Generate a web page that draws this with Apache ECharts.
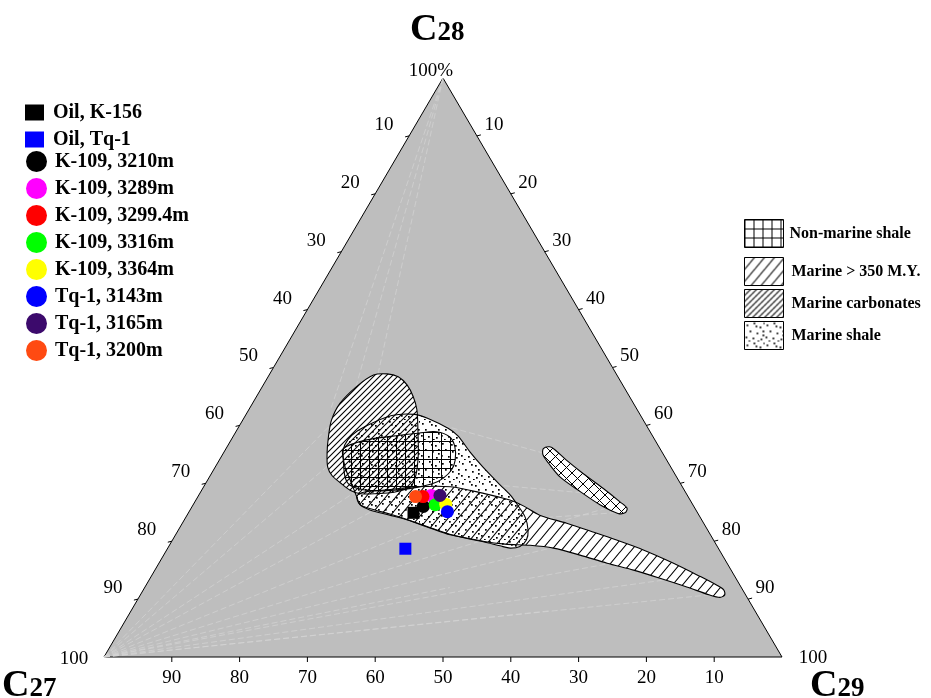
<!DOCTYPE html>
<html><head><meta charset="utf-8">
<script src="https://cdn.jsdelivr.net/npm/echarts@6/dist/echarts.min.js"></script>
<style>html,body{margin:0;padding:0;background:#fff}#c{width:931px;height:698px}</style>
</head><body><div id="c"></div>
<script>
// ---- samples: sterane composition (%) ----
const sampleNames = ['Oil, K-156','Oil, Tq-1','K-109, 3210m','K-109, 3289m','K-109, 3299.4m','K-109, 3316m','K-109, 3364m','Tq-1, 3143m','Tq-1, 3165m','Tq-1, 3200m'];
const sampleC27 = [41.9, 46.2, 39.9, 37.8, 39.1, 38.0, 36.4, 36.8, 36.5, 40.2];
const sampleC28 = [24.9, 18.7, 26.0, 27.9, 27.7, 26.3, 26.4, 25.1, 27.9, 27.7];
const sampleC29 = [33.2, 35.1, 34.1, 34.3, 33.2, 35.7, 37.2, 38.1, 35.6, 32.1];
const tickValues = [10, 20, 30, 40, 50, 60, 70, 80, 90];

// ---- environment fields, outline vertices as [C29 %, C28 %] (C27 = remainder) ----
const nonMarineA = [[17.3,36.0],[20.0,37.5],[24.5,38.3],[27.2,38.7],[29.6,38.9],[32.0,38.0],[33.6,36.3],[34.8,34.0],[35.1,32.3],[34.6,30.9],[33.6,30.0],[31.5,29.3],[29.2,28.9],[26.9,28.7],[23.8,28.9],[21.4,29.7],[20.0,31.1],[18.3,34.0]];
const nonMarineB = [[46.8,36.0],[47.6,36.3],[48.6,35.8],[51.2,34.0],[54.8,31.7],[59.1,29.1],[62.7,26.8],[64.3,25.7],[64.4,24.9],[63.4,24.8],[60.0,26.3],[55.9,28.6],[51.7,31.1],[48.8,33.5],[47.3,34.9]];
const marineOld = [[23.4,27.8],[24.2,28.5],[26.7,28.8],[31.5,29.4],[36.4,29.4],[41.7,28.3],[46.3,27.1],[48.8,26.1],[52.0,24.5],[56.7,23.1],[61.3,21.6],[65.5,20.2],[70.3,18.5],[75.9,16.2],[81.0,13.9],[84.2,12.4],[85.6,11.6],[86.2,10.7],[85.7,10.3],[84.0,10.7],[79.9,12.1],[75.2,13.6],[70.6,15.0],[66.1,16.2],[61.4,17.6],[56.9,18.8],[53.2,19.3],[49.4,19.5],[45.9,20.0],[40.4,21.2],[32.7,23.8],[29.8,24.7],[26.5,25.6],[24.5,26.4]];
const carbonates = [[15.4,48.7],[17.3,48.9],[19.2,48.4],[21.2,47.0],[23.1,45.0],[24.8,42.7],[26.7,39.2],[28.9,34.9],[30.3,31.4],[30.5,29.4],[28.7,28.5],[25.9,28.2],[23.7,28.2],[21.9,28.8],[19.8,30.1],[18.0,31.3],[16.6,32.8],[15.3,35.2],[14.1,38.0],[13.1,40.9],[12.9,43.8],[13.9,46.7]];
const marineShale = [[23.5,27.6],[24.6,26.3],[26.5,25.4],[29.9,24.5],[32.8,23.7],[36.9,22.3],[40.5,21.1],[46.0,19.9],[48.8,19.2],[50.5,18.8],[51.8,19.1],[52.2,20.2],[51.6,21.9],[50.0,24.2],[47.6,26.5],[45.9,28.0],[43.6,29.7],[39.5,32.8],[36.3,35.4],[33.1,38.2],[31.0,39.5],[27.2,41.2],[24.9,41.9],[21.6,41.7],[18.6,39.8],[17.4,38.3],[17.2,36.6],[17.8,34.9],[19.3,32.6],[21.0,30.6],[22.5,28.8]];

// faint construction lines in the background: [fromC29, fromC28, toC29, toC28]
const guideLines = [
  [0,0,24,30],[0,0,30,28],[0,0,40,25],[0,0,50,22],[0,0,60,20],[0,0,70,17],[0,0,80,14],[0,0,86,11],[0,0,20,40],[0,0,15,45],[0,0,45,12],[0,0,62,8],
  [0,100,14,46],[0,100,20,36],[0,100,12,43],
  [30,40,48,35],[52,24,64,25],[52,22,62,26],[40,30,60,28]
];

// ---- styles ----
const sampleColors = ['#000000','#0000ff','#000000','#ff00ff','#ff0000','#00ff00','#ffff00','#0000ff','#3c0a6c','#ff4a12'];
const SERIF = '"Liberation Serif", "Times New Roman", serif';

function proj(c29, c28) { return [c29 + c28 / 2, c28]; }

function makeTile(w, h, draw) {
  const c = document.createElement('canvas');
  c.width = w; c.height = h;
  const g = c.getContext('2d');
  g.strokeStyle = '#000'; g.fillStyle = '#000'; g.lineWidth = 1;
  draw(g, w, h);
  return { image: c, repeat: 'repeat' };
}
function diag(g, w, h) {
  g.beginPath();
  g.moveTo(-w, 2 * h); g.lineTo(2 * w, -h);
  g.moveTo(-w, h); g.lineTo(w, -h);
  g.moveTo(0, 2 * h); g.lineTo(2 * w, 0);
  g.stroke();
}
const patGrid = makeTile(9, 9, (g) => { g.beginPath(); g.moveTo(0.5, 0); g.lineTo(0.5, 9); g.moveTo(0, 0.5); g.lineTo(9, 0.5); g.stroke(); });
const patCross = makeTile(11, 11, (g, w, h) => { diag(g, w, h); g.beginPath(); g.moveTo(-w, -h); g.lineTo(2*w, 2*h); g.moveTo(0,-h); g.lineTo(2*w,h); g.moveTo(-w,0); g.lineTo(w,2*h); g.stroke(); });
const patOld = makeTile(10, 12, (g, w, h) => { g.lineWidth = 1.1; diag(g, w, h); });
const patCarb = makeTile(6, 6, (g, w, h) => { g.lineWidth = 1.1; diag(g, w, h); });
const dotSpots = [[2,3],[9,1],[15,5],[5,9],[12,11],[18,9],[1,15],[8,16],[16,17],[11,4],[4,19],[13,19],[19,1],[18,13]];
const patDots = makeTile(20, 20, (g) => { dotSpots.forEach(d => g.fillRect(d[0], d[1], 1.7, 1.7)); });

function regionSeries(name, polys, fills, z) {
  return {
    type: 'custom', name, coordinateSystem: 'cartesian2d', z, silent: true,
    itemStyle: { color: fills[0], borderColor: '#000', borderWidth: 1 },
    data: polys.map(p => proj(p[0][0], p[0][1])),
    renderItem(params, api) {
      const pts = polys[params.dataIndex].map(q => api.coord(proj(q[0], q[1])));
      return { type: 'polygon', shape: { points: pts, smooth: 0.3 },
               style: { fill: fills[params.dataIndex], stroke: '#000', lineWidth: 1.1 } };
    }
  };
}

const allPolys = [nonMarineA, nonMarineB, marineOld, carbonates, marineShale];

const series = [];
// triangle frame with ticks and labels
series.push({
  type: 'custom', name: 'frame', coordinateSystem: 'cartesian2d', z: 1, silent: true,
  data: [[50, 50]],
  renderItem(params, api) {
    const A = api.coord(proj(0, 100)), B = api.coord(proj(0, 0)), C = api.coord(proj(100, 0));
    const font = '19px ' + SERIF;
    const kids = [{ type: 'polygon', shape: { points: [A, B, C] }, style: { fill: '#bebebe', stroke: '#000', lineWidth: 1 } }];
    guideLines.forEach(l => {
      const p = api.coord(proj(l[0], l[1])), q = api.coord(proj(l[2], l[3]));
      kids.push({ type: 'line', shape: { x1: p[0], y1: p[1], x2: q[0], y2: q[1] }, style: { stroke: '#d4d4d4', lineWidth: 0.7, lineDash: [6, 3] } });
    });
    const label = (x, y, t) => kids.push({ type: 'text', x, y, style: { text: t, font, fill: '#000', textAlign: 'center', textVerticalAlign: 'middle' } });
    const tick = (p, dx, dy) => kids.push({ type: 'line', shape: { x1: p[0], y1: p[1], x2: p[0] + dx, y2: p[1] + dy }, style: { stroke: '#000', lineWidth: 1 } });
    tickValues.forEach(v => {
      const pl = api.coord(proj(0, 100 - v)); tick(pl, -4, 1); label(pl[0] - 25, pl[1] - 11, String(v));
      const pr = api.coord(proj(v, 100 - v)); tick(pr, 4, -1); label(pr[0] + 17, pr[1] - 11, String(v));
      const pb = api.coord(proj(100 - v, 0)); tick(pb, 0, 5); label(pb[0], pb[1] + 21, String(v));
    });
    label(A[0] - 12, A[1] - 7, '100%');
    label(B[0] - 30, B[1] + 2, '100');
    label(C[0] + 31, C[1] + 1, '100');
    return { type: 'group', children: kids };
  }
});
// white base under all fields
series.push({
  type: 'custom', name: 'base', coordinateSystem: 'cartesian2d', z: 2, silent: true,
  data: allPolys.map(p => proj(p[0][0], p[0][1])),
  renderItem(params, api) {
    const pts = allPolys[params.dataIndex].map(q => api.coord(proj(q[0], q[1])));
    return { type: 'polygon', shape: { points: pts, smooth: 0.3 }, style: { fill: '#fff', stroke: null } };
  }
});
series.push(regionSeries('Marine shale', [marineShale], [patDots], 3));
series.push(regionSeries('Marine > 350 M.Y.', [marineOld], [patOld], 3));
series.push(regionSeries('Marine carbonates', [carbonates], [patCarb], 3));
series.push(regionSeries('Non-marine shale', [nonMarineA, nonMarineB], [patGrid, patCross], 3));

sampleNames.forEach((n, i) => {
  const isOil = i < 2;
  series.push({
    type: 'scatter', name: n, z: 5, silent: true,
    symbol: isOil ? 'rect' : 'circle', symbolSize: isOil ? 12 : 13,
    itemStyle: { color: sampleColors[i], opacity: 1 },
    data: [proj(sampleC29[i], sampleC28[i]).concat([sampleC27[i]])]
  });
});

const legText = (size) => ({ fontFamily: SERIF, fontWeight: 'bold', fontSize: size, color: '#000' });
const titleRich = {
  c: { fontFamily: SERIF, fontWeight: 'bold', fontSize: 38, verticalAlign: 'bottom', fill: '#000', color: '#000' },
  n: { fontFamily: SERIF, fontWeight: 'bold', fontSize: 27, verticalAlign: 'bottom', fill: '#000', color: '#000', padding: [0, 0, 2, 0] }
};

const chart = echarts.init(document.getElementById('c'), null, { renderer: 'canvas' });
chart.setOption({
  animation: false,
  backgroundColor: '#fff',
  grid: { left: 104, right: 149, top: 78, bottom: 41 },
  xAxis: { type: 'value', min: 0, max: 100, show: false },
  yAxis: { type: 'value', min: 0, max: 100, show: false },
  tooltip: { show: false },
  legend: [
    { data: sampleNames.slice(0, 2), orient: 'vertical', left: 20, top: 97, itemWidth: 19, itemHeight: 16, itemGap: 6, icon: 'rect',
      selectedMode: false, textStyle: Object.assign(legText(20), { lineHeight: 21, padding: [0, 0, 0, 4] }) },
    { data: sampleNames.slice(2), orient: 'vertical', left: 21, top: 146, itemWidth: 21, itemHeight: 21, itemGap: 6, icon: 'circle',
      selectedMode: false, textStyle: Object.assign(legText(20), { lineHeight: 21, padding: [0, 0, 0, 3] }) },
    { data: ['Non-marine shale'], orient: 'vertical', left: 739, top: 214, itemWidth: 39, itemHeight: 28, icon: 'rect',
      selectedMode: false, itemStyle: { borderColor: '#000', borderWidth: 1 }, textStyle: Object.assign(legText(16), { padding: [0, 0, 0, 1] }) },
    { data: ['Marine > 350 M.Y.', 'Marine carbonates', 'Marine shale'], orient: 'vertical', left: 739, top: 252, itemGap: 3,
      itemWidth: 39, itemHeight: 28, icon: 'rect', selectedMode: false, itemStyle: { borderColor: '#000', borderWidth: 1 },
      textStyle: Object.assign(legText(16), { padding: [0, 0, 0, 3] }) }
  ],
  graphic: [
    { type: 'text', left: 410, top: 11, style: { text: '{c|C}{n|28}', rich: titleRich } },
    { type: 'text', left: 2, top: 667, style: { text: '{c|C}{n|27}', rich: titleRich } },
    { type: 'text', left: 810, top: 667, style: { text: '{c|C}{n|29}', rich: titleRich } }
  ],
  series
});
</script></body></html>
